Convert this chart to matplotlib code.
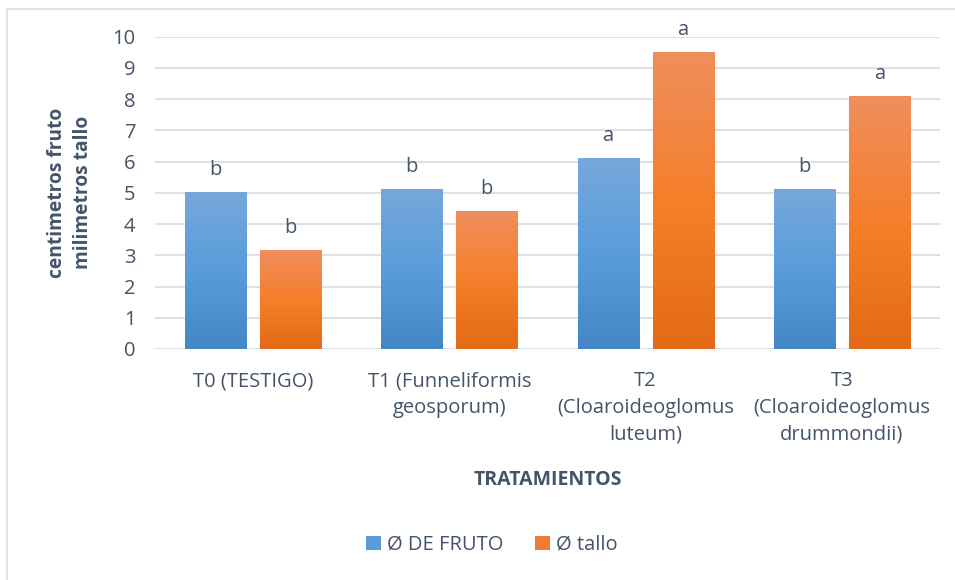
import numpy as np
import matplotlib
matplotlib.use("Agg")
import matplotlib.pyplot as plt
from matplotlib.patches import Patch, Rectangle
from matplotlib.colors import LinearSegmentedColormap

plt.rcParams['font.family'] = ['Open Sans', 'DejaVu Sans']

categories = ["T0 (TESTIGO)", "T1 (Funneliformis\ngeosporum)",
              "T2\n(Cloaroideoglomus\nluteum)", "T3\n(Cloaroideoglomus\ndrummondii)"]
fruto = [5.0, 5.1, 6.1, 5.1]
tallo = [3.15, 4.4, 9.5, 8.1]
fruto_letters = ["b", "b", "a", "b"]
tallo_letters = ["b", "b", "a", "a"]
series_names = ["Ø DE FRUTO", "Ø tallo"]
yticks = list(range(0, 11))

text_color = "#44546a"
grid_color = "#dde1e6"
blue_grad = LinearSegmentedColormap.from_list("bg", ["#4387c7", "#5a9cdb", "#76a8dc"])
orange_grad = LinearSegmentedColormap.from_list("og", ["#e36a17", "#f57f2a", "#f08e5d"])

fig = plt.figure(figsize=(9.55, 5.8), dpi=100)
ax = fig.add_axes([155 / 955, 1 - 349 / 580, 785 / 955, (349 - 36.7) / 580])

# light frame around the chart area
fig.patches.append(Rectangle((7 / 955, -0.1), 1.2, 1 - 9 / 580 + 0.1,
                             transform=fig.transFigure, fill=False,
                             edgecolor="#d9dde3", linewidth=1.2, zorder=0))

x = np.arange(len(categories))
width = 0.311
offset = 0.191

bars_f = ax.bar(x - offset, fruto, width, color="#5b9bd5", zorder=2)
bars_t = ax.bar(x + offset, tallo, width, color="#ed7d31", zorder=2)

# vertical gradient fill on each bar
grad = np.linspace(0, 1, 256).reshape(-1, 1)
for bars, cmap in ((bars_f, blue_grad), (bars_t, orange_grad)):
    for rect in bars:
        bx, by = rect.get_x(), rect.get_y()
        bw, bh = rect.get_width(), rect.get_height()
        ax.imshow(grad, cmap=cmap, origin="lower", aspect="auto",
                  extent=[bx, bx + bw, by, by + bh], zorder=3,
                  interpolation="bilinear")

# significance letters above bars
for bars, letters in ((bars_f, fruto_letters), (bars_t, tallo_letters)):
    for rect, lt in zip(bars, letters):
        ax.annotate(lt, (rect.get_x() + rect.get_width() / 2, rect.get_height()),
                    xytext=(0, 9), textcoords="offset points",
                    ha="center", va="bottom", fontsize=14.5,
                    color=text_color, annotation_clip=False)

ax.set_xlim(-0.5, 3.5)
ax.set_ylim(0, 10)
ax.set_yticks(yticks)
ax.set_xticks(x)
ax.set_xticklabels(categories, linespacing=1.45)
ax.tick_params(axis="both", length=0, labelsize=14.5, labelcolor=text_color)
ax.tick_params(axis="y", pad=14)
ax.tick_params(axis="x", pad=16)
for s in ax.spines.values():
    s.set_visible(False)
ax.yaxis.grid(True, color=grid_color, linewidth=1.5, zorder=0)
ax.set_axisbelow(True)

ax.set_xlabel("TRATAMIENTOS", fontsize=14, fontweight="bold",
              color=text_color, labelpad=18)
ax.set_ylabel("centimetros fruto\nmilimetros tallo", fontsize=13.8,
              fontweight="bold", color=text_color, labelpad=14, linespacing=1.4)

handles = [Patch(facecolor="#5b9bd5"), Patch(facecolor="#ed7d31")]
fig.legend(handles, series_names, loc="center", bbox_to_anchor=(0.515, 1 - 545 / 580),
           ncol=2, frameon=False, fontsize=14.5, labelcolor=text_color,
           handlelength=0.75, handleheight=0.75, handletextpad=0.3,
           columnspacing=1.6)

fig.savefig("out.png", dpi=100)
